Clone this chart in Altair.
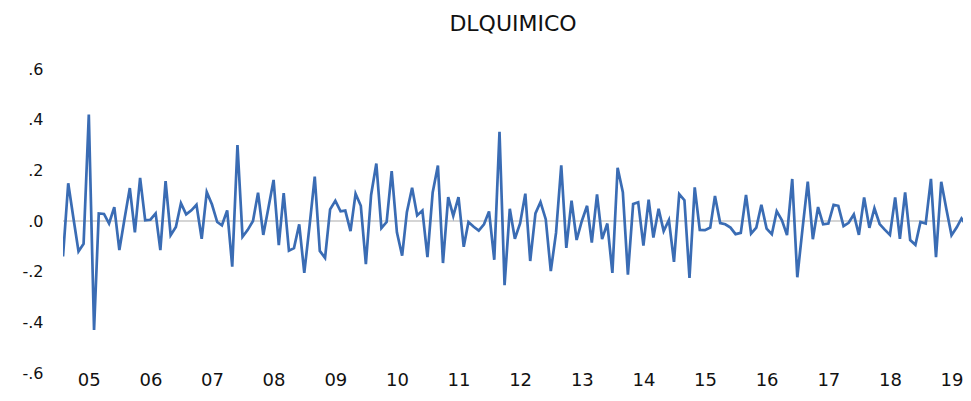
import altair as alt
import pandas as pd

title_text = "DLQUIMICO"
start_month = "2004-08-01"
values = [
    -0.14, 0.149, 0.015, -0.12, -0.09, 0.42, -0.43, 0.03, 0.028, -0.01,
    0.055, -0.115, 0.01, 0.13, -0.045, 0.17, 0.003, 0.005, 0.03, -0.115,
    0.157, -0.056, -0.024, 0.07, 0.026, 0.042, 0.064, -0.07, 0.114, 0.065,
    -0.004, -0.017, 0.042, -0.18, 0.30, -0.062, -0.035, 0.0, 0.112, -0.055,
    0.05, 0.162, -0.095, 0.11, -0.117, -0.107, -0.013, -0.205, -0.02, 0.175,
    -0.118, -0.146, 0.046, 0.08, 0.038, 0.041, -0.04, 0.108, 0.06, -0.17,
    0.103, 0.227, -0.028, -0.004, 0.197, -0.045, -0.137, 0.035, 0.131, 0.022,
    0.041, -0.143, 0.113, 0.219, -0.166, 0.094, 0.02, 0.094, -0.102, -0.004,
    -0.023, -0.038, -0.013, 0.038, -0.153, 0.352, -0.253, 0.048, -0.07, -0.01,
    0.108, -0.158, 0.03, 0.075, 0.007, -0.198, -0.047, 0.22, -0.106, 0.08,
    -0.075, 0.0, 0.06, -0.085, 0.105, -0.071, -0.01, -0.205, 0.21, 0.114,
    -0.212, 0.067, 0.074, -0.097, 0.084, -0.065, 0.048, -0.04, 0.004, -0.161,
    0.106, 0.082, -0.225, 0.133, -0.035, -0.036, -0.026, 0.099, -0.008, -0.013,
    -0.026, -0.052, -0.047, 0.103, -0.05, -0.026, 0.064, -0.03, -0.052, 0.039,
    0.003, -0.056, 0.166, -0.222, -0.03, 0.155, -0.072, 0.055, -0.013, -0.01,
    0.064, 0.06, -0.02, -0.007, 0.026, -0.055, 0.093, -0.027, 0.05, -0.012,
    -0.034, -0.055, 0.093, -0.07, 0.113, -0.075, -0.094, -0.004, -0.01, 0.166,
    -0.143, 0.155, 0.048, -0.056, -0.025, 0.01, -0.019, -0.045,
]
year_ticks = [f"{y}-01-01" for y in range(2005, 2020)]
y_ticks = [-0.6, -0.4, -0.2, 0.0, 0.2, 0.4, 0.6]

dates = pd.date_range(start=start_month, periods=len(values), freq="MS")
df = pd.DataFrame({"date": dates, "value": values})

FONT = "DejaVu Sans"

# the series runs past the right edge of the frame, as in the reference
x_domain = [dates[0].strftime("%Y-%m-%d"), "2019-03-10"]

x_enc = alt.X(
    "date:T",
    scale=alt.Scale(domain=x_domain, nice=False),
    axis=alt.Axis(
        title=None, values=year_ticks, format="%y", domain=False, ticks=False, tickSize=0,
        grid=False, labelFont=FONT, labelFontSize=18, labelColor="#111111",
        labelBaseline="alphabetic", labelPadding=12, labelAngle=0,
    ),
)
y_enc = alt.Y(
    "value:Q",
    scale=alt.Scale(domain=[-0.6, 0.6], nice=False, zero=False),
    axis=alt.Axis(
        title=None, values=y_ticks, domain=False, ticks=False, tickSize=0, grid=False,
        labelFont=FONT, labelFontSize=16, labelColor="#111111", labelPadding=20,
        labelExpr="(datum.value < -0.0001 ? '-' : '') + '.' + format(abs(datum.value) * 10, '.0f')",
    ),
)

zero = alt.Chart(df).mark_rule(color="#d4d4d4", strokeWidth=1.5).encode(y=alt.datum(0))
line = alt.Chart(df).mark_line(color="#3a6cb4", strokeWidth=2.7, clip=True).encode(x=x_enc, y=y_enc)

chart = (
    alt.layer(zero, line)
    .properties(
        width=900,
        height=304,
        background="white",
        title=alt.TitleParams(
            title_text, font=FONT, fontSize=22, fontWeight="normal", color="#111111",
            anchor="middle", baseline="alphabetic", offset=8,
        ),
        autosize=alt.AutoSizeParams(type="none"),
        padding={"left": 55, "top": 61, "right": 0, "bottom": 16},
    )
    .configure_view(stroke="transparent", strokeWidth=0)
    .configure_axis(grid=False, domain=False)
)

chart.save("out.html", embed_options={"renderer": "svg", "actions": False})
